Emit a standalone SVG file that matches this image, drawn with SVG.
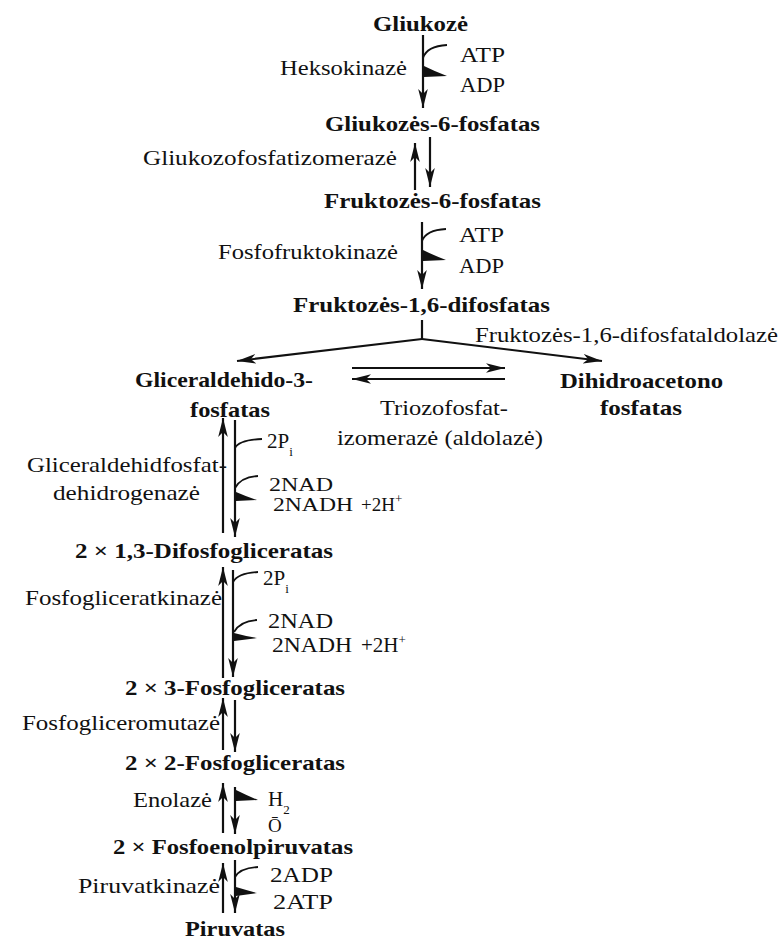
<svg xmlns="http://www.w3.org/2000/svg" width="782" height="943" viewBox="0 0 782 943">
<defs>
<style>
text{font-family:"Liberation Serif","Times New Roman",serif;font-size:21px;fill:#111}
.b{font-weight:bold}
.sm{font-size:19px}
.sub{font-size:13px}
.ln{stroke:#111;stroke-width:2.2;fill:none}
.thin{stroke:#111;stroke-width:1.8;fill:none}
.wedge{fill:#111;stroke:none}
</style>
<marker id="ah" viewBox="-19 -5 20 10" refX="0" refY="0" markerWidth="20" markerHeight="10" markerUnits="userSpaceOnUse" orient="auto">
<path d="M-19,-4.8 L0,0 L-19,4.8 L-14,0 Z" fill="#111"/>
</marker>
</defs>
<rect width="782" height="943" fill="#fff"/>

<g id="n-gliukoze"><text class="b" x="373" y="31" textLength="95" lengthAdjust="spacingAndGlyphs">Gliukozė</text></g>
<g id="n-g6p"><text class="b" x="325" y="131" textLength="215" lengthAdjust="spacingAndGlyphs">Gliukozės-6-fosfatas</text></g>
<g id="n-f6p"><text class="b" x="324" y="208" textLength="217" lengthAdjust="spacingAndGlyphs">Fruktozės-6-fosfatas</text></g>
<g id="n-f16bp"><text class="b" x="293" y="312" textLength="257" lengthAdjust="spacingAndGlyphs">Fruktozės-1,6-difosfatas</text></g>
<g id="n-gap">
<text class="b" x="135" y="387" textLength="178" lengthAdjust="spacingAndGlyphs">Gliceraldehido-3-</text>
<text class="b" x="190" y="417" textLength="80" lengthAdjust="spacingAndGlyphs">fosfatas</text>
</g>
<g id="n-dhap">
<text class="b" x="560" y="388" textLength="163" lengthAdjust="spacingAndGlyphs">Dihidroacetono</text>
<text class="b" x="600" y="415" textLength="82" lengthAdjust="spacingAndGlyphs">fosfatas</text>
</g>
<g id="n-13bpg"><text class="b" x="75" y="558" textLength="258" lengthAdjust="spacingAndGlyphs">2 × 1,3-Difosfogliceratas</text></g>
<g id="n-3pg"><text class="b" x="125" y="695" textLength="220" lengthAdjust="spacingAndGlyphs">2 × 3-Fosfogliceratas</text></g>
<g id="n-2pg"><text class="b" x="125" y="770" textLength="220" lengthAdjust="spacingAndGlyphs">2 × 2-Fosfogliceratas</text></g>
<g id="n-pep"><text class="b" x="113" y="854" textLength="240" lengthAdjust="spacingAndGlyphs">2 × Fosfoenolpiruvatas</text></g>
<g id="n-pyr"><text class="b" x="185" y="936" textLength="100" lengthAdjust="spacingAndGlyphs">Piruvatas</text></g>

<g id="labels">
<text x="280" y="75" textLength="127" lengthAdjust="spacingAndGlyphs">Heksokinazė</text>
<text x="460" y="62" textLength="45" lengthAdjust="spacingAndGlyphs">ATP</text>
<text x="460" y="92" textLength="45" lengthAdjust="spacingAndGlyphs">ADP</text>
<text x="143" y="165" textLength="254" lengthAdjust="spacingAndGlyphs">Gliukozofosfatizomerazė</text>
<text x="218" y="259" textLength="180" lengthAdjust="spacingAndGlyphs">Fosfofruktokinazė</text>
<text x="459" y="242" textLength="45" lengthAdjust="spacingAndGlyphs">ATP</text>
<text x="459" y="273" textLength="45" lengthAdjust="spacingAndGlyphs">ADP</text>
<text x="475" y="342" textLength="303" lengthAdjust="spacingAndGlyphs">Fruktozės-1,6-difosfataldolazė</text>
<text x="380" y="415" textLength="128" lengthAdjust="spacingAndGlyphs">Triozofosfat-</text>
<text x="337" y="445" textLength="206" lengthAdjust="spacingAndGlyphs">izomerazė (aldolazė)</text>
<text x="267" y="448">2P<tspan class="sub" dy="8">i</tspan></text>
<text x="27" y="472" textLength="200" lengthAdjust="spacingAndGlyphs">Gliceraldehidfosfat-</text>
<text x="53" y="500" textLength="147" lengthAdjust="spacingAndGlyphs">dehidrogenazė</text>
<text class="sm" x="269" y="491" textLength="64" lengthAdjust="spacingAndGlyphs">2NAD</text>
<text class="sm" x="273" y="511" textLength="80" lengthAdjust="spacingAndGlyphs">2NADH</text>
<text class="sm" x="361" y="511">+2H<tspan class="sub" dy="-8">+</tspan></text>
<text x="263" y="585">2P<tspan class="sub" dy="8">i</tspan></text>
<text x="25" y="605" textLength="197" lengthAdjust="spacingAndGlyphs">Fosfogliceratkinazė</text>
<text x="268" y="628" textLength="65" lengthAdjust="spacingAndGlyphs">2NAD</text>
<text x="272" y="652" textLength="80" lengthAdjust="spacingAndGlyphs">2NADH</text>
<text x="361" y="652">+2H<tspan class="sub" dy="-8">+</tspan></text>
<text x="22" y="730" textLength="198" lengthAdjust="spacingAndGlyphs">Fosfogliceromutazė</text>
<text x="133" y="807" textLength="79" lengthAdjust="spacingAndGlyphs">Enolazė</text>
<text x="268" y="806">H<tspan class="sub" dy="8">2</tspan></text>
<text class="sm" x="268" y="832">Ō</text>
<text x="78" y="893" textLength="142" lengthAdjust="spacingAndGlyphs">Piruvatkinazė</text>
<text x="270" y="882" textLength="63" lengthAdjust="spacingAndGlyphs">2ADP</text>
<text x="273" y="909" textLength="60" lengthAdjust="spacingAndGlyphs">2ATP</text>
</g>

<g id="connectors">
<path class="ln" d="M423,35 V108" marker-end="url(#ah)"/>
<path class="thin" d="M423,58 Q427,46 447,45"/>
<path class="wedge" d="M424,66 Q434,71 447,76 L424,77 Z"/>
<path class="ln" d="M415,190 V143" marker-end="url(#ah)"/>
<path class="ln" d="M430,137 V187" marker-end="url(#ah)"/>
<path class="ln" d="M422,222 V289" marker-end="url(#ah)"/>
<path class="thin" d="M422,241 Q426,230 446,229"/>
<path class="wedge" d="M423,250 Q433,255 446,260 L423,261 Z"/>
<path class="ln" d="M422,320 V339"/>
<path class="ln" d="M422,339 L237,361" marker-end="url(#ah)"/>
<path class="ln" d="M422,339 L602,361" marker-end="url(#ah)"/>
<path class="ln" d="M352,368 H505" marker-end="url(#ah)"/>
<path class="ln" d="M505,379 H352" marker-end="url(#ah)"/>
<path class="ln" d="M223,533 V418" marker-end="url(#ah)"/>
<path class="ln" d="M235,420 V537" marker-end="url(#ah)"/>
<path class="thin" d="M235,448 Q239,440 262,439"/>
<path class="thin" d="M235,488 Q241,477 258,476"/>
<path class="wedge" d="M236,492 Q245,496 257,500 L236,501 Z"/>
<path class="ln" d="M223,678 V567" marker-end="url(#ah)"/>
<path class="ln" d="M233,570 V677" marker-end="url(#ah)"/>
<path class="thin" d="M233,582 Q238,573 258,572"/>
<path class="thin" d="M234,632 Q240,621 257,620"/>
<path class="wedge" d="M234,633 Q245,636 257,638 L234,641 Z"/>
<path class="ln" d="M223,750 V698" marker-end="url(#ah)"/>
<path class="ln" d="M235,700 V752" marker-end="url(#ah)"/>
<path class="ln" d="M223,833 V783" marker-end="url(#ah)"/>
<path class="ln" d="M235,787 V834" marker-end="url(#ah)"/>
<path class="wedge" d="M236,790 Q246,795 258,800 L236,801 Z"/>
<path class="ln" d="M223,913 V863" marker-end="url(#ah)"/>
<path class="ln" d="M235,860 V913" marker-end="url(#ah)"/>
<path class="thin" d="M235,877 Q240,868 258,867"/>
<path class="wedge" d="M236,887 Q246,890 257,893 L236,896 Z"/>
</g>
</svg>
